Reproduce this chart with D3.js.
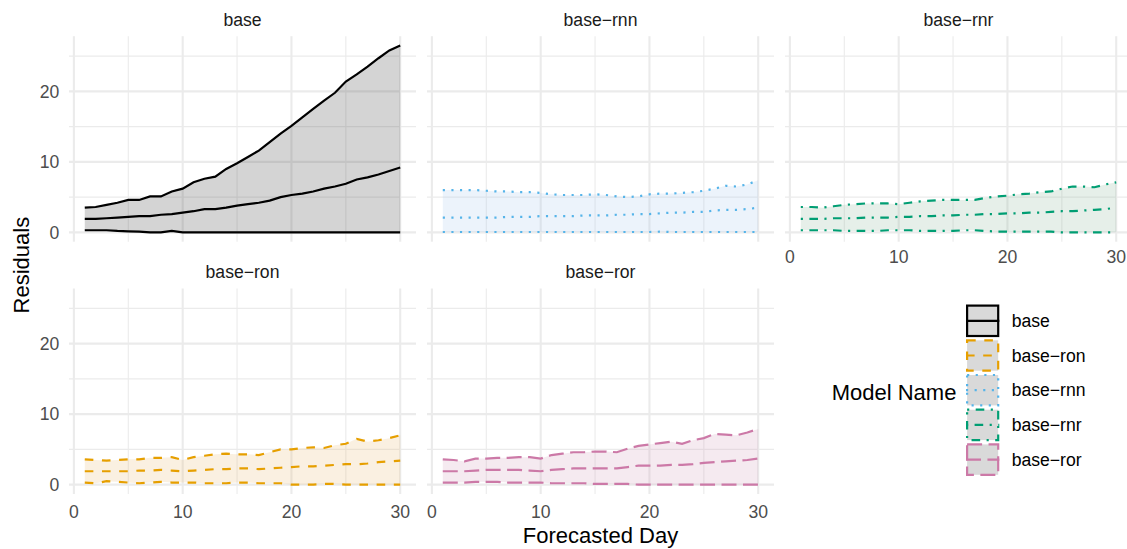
<!DOCTYPE html>
<html>
<head>
<meta charset="utf-8">
<script src="https://cdn.jsdelivr.net/npm/d3@7"></script>
<style>
body { margin: 0; background: #fff; }
text { font-family: "Liberation Sans", Arial, Helvetica, sans-serif; }
</style>
</head>
<body>
<svg width="1127" height="549"></svg>
<script>
// forecast days
var days = [1,2,3,4,5,6,7,8,9,10,11,12,13,14,15,16,17,18,19,20,21,22,23,24,25,26,27,28,29,30];

// facet order (alphabetical) and legend order
var models = ["base", "base-rnn", "base-rnr", "base-ron", "base-ror"];
var legendOrder = ["base", "base-ron", "base-rnn", "base-rnr", "base-ror"];

var xTicks = [0, 10, 20, 30];
var yTicks = [0, 10, 20];

// residual bands: lower / middle / upper per model
var lowerBase = [0.3,0.3,0.3,0.2,0.15,0.1,0,0,0.2,0,0,0,0,0,0,0,0,0,0,0,0,0,0,0,0,0,0,0,0,0];
var midBase   = [1.9,1.9,2.0,2.1,2.2,2.3,2.3,2.5,2.6,2.8,3.0,3.3,3.3,3.5,3.8,4.0,4.2,4.5,5.0,5.3,5.5,5.8,6.2,6.5,6.9,7.5,7.8,8.2,8.7,9.2];
var upperBase = [3.5,3.6,3.9,4.2,4.6,4.6,5.1,5.1,5.8,6.2,7.1,7.6,7.9,9.0,9.8,10.7,11.6,12.8,14.0,15.1,16.3,17.5,18.7,19.8,21.4,22.4,23.5,24.7,25.8,26.5];

var lowerRnn = [0.05,0.05,0.05,0.05,0.05,0.05,0.05,0.05,0.05,0.05,0.05,0.05,0.05,0.05,0.05,0.05,0.05,0.05,0.05,0.05,0.1,0.05,0.05,0.05,0.05,0.05,0.05,0.05,0.05,0.05];
var midRnn   = [2.1,2.1,2.1,2.1,2.1,2.1,2.2,2.2,2.2,2.3,2.3,2.3,2.3,2.4,2.4,2.4,2.5,2.5,2.6,2.6,2.7,2.8,2.8,2.9,2.9,3.1,3.2,3.2,3.3,3.5];
var upperRnn = [6.0,6.0,6.0,6.0,5.9,5.8,5.8,5.7,5.7,5.6,5.4,5.3,5.3,5.3,5.4,5.3,5.1,5.0,5.1,5.4,5.5,5.5,5.6,5.7,5.9,6.2,6.6,6.5,6.8,7.4];

var lowerRnr = [0.3,0.3,0.3,0.3,0.2,0.2,0.2,0.2,0.3,0.3,0.3,0.2,0.2,0.2,0.2,0.3,0.3,0.2,0.1,0.1,0.1,0.1,0.1,0.1,0,0,0,0,0,0];
var midRnr   = [1.9,1.9,1.9,2.0,2.0,2.0,2.1,2.1,2.1,2.2,2.2,2.3,2.3,2.4,2.4,2.5,2.5,2.6,2.6,2.7,2.7,2.8,2.8,2.9,3.0,3.0,3.1,3.2,3.3,3.5];
var upperRnr = [3.6,3.6,3.5,3.7,3.9,4.0,4.1,4.1,4.1,4.0,4.2,4.4,4.5,4.6,4.6,4.6,4.6,4.9,5.1,5.2,5.4,5.5,5.7,5.8,6.2,6.5,6.5,6.4,6.8,7.1];

var lowerRon = [0.3,0.2,0.5,0.4,0.3,0.2,0.3,0.4,0.3,0.3,0.3,0.2,0.2,0.2,0.3,0.3,0.2,0.2,0.2,0,0,0,0.1,0.1,0,0,0,0,0,0];
var midRon   = [1.9,1.9,1.9,1.9,1.9,2.0,2.0,2.1,2.0,1.9,2.0,2.1,2.2,2.2,2.3,2.3,2.2,2.3,2.4,2.5,2.6,2.6,2.7,2.8,2.9,2.9,3.0,3.2,3.3,3.4];
var upperRon = [3.6,3.5,3.4,3.5,3.6,3.6,3.8,3.8,3.9,3.5,3.9,4.1,4.3,4.4,4.3,4.3,4.2,4.6,5.0,5.0,5.2,5.3,5.2,5.6,5.8,6.5,6.1,6.3,6.6,7.0];

var lowerRor = [0.3,0.3,0.3,0.4,0.4,0.4,0.3,0.3,0.3,0.3,0.2,0.2,0.2,0.2,0.1,0.1,0.1,0.1,0,0,0,0,0,0,0,0,0,0,0,0];
var midRor   = [1.9,1.9,1.9,2.0,2.1,2.1,2.1,2.1,2.0,1.9,2.1,2.2,2.3,2.3,2.3,2.3,2.3,2.5,2.7,2.7,2.7,2.8,2.8,2.9,3.1,3.2,3.3,3.4,3.5,3.7];
var upperRor = [3.6,3.5,3.3,3.7,3.7,3.8,3.8,3.9,3.9,3.7,4.2,4.4,4.6,4.6,4.7,4.7,4.6,5.1,5.5,5.7,5.9,6.1,5.8,6.3,6.6,7.2,7.1,7.0,7.4,7.9];

var bands = {
  "base":     [lowerBase, midBase, upperBase],
  "base-rnn": [lowerRnn, midRnn, upperRnn],
  "base-rnr": [lowerRnr, midRnr, upperRnr],
  "base-ron": [lowerRon, midRon, upperRon],
  "base-ror": [lowerRor, midRor, upperRor]
};

// styles
var lineColor = { "base": "#000000", "base-ron": "#E69F00", "base-rnn": "#56B4E9", "base-rnr": "#009E73", "base-ror": "#CC79A7" };
var ribbonFill = { "base": "#282828", "base-ron": "#e6b469", "base-rnn": "#a0c3eb", "base-rnr": "#82af91", "base-ror": "#cd96b4" };
var dash = { "base": null, "base-ron": "8.6,8.6", "base-rnn": "2.15,6.45", "base-rnr": "2.15,6.45,8.6,6.45", "base-ror": "15,6.45" };
var lw = 2.2;

var svg = d3.select("svg");
var W = 347, H = 205.5;
var colX = [69, 427, 785], rowY = [36.2, 288.5];

function expand(ext) {
  var pad = (ext[1] - ext[0]) * 0.05;
  return [ext[0] - pad, ext[1] + pad];
}

var allVals = [];
models.forEach(function(m) { bands[m].forEach(function(a) { allVals = allVals.concat(a); }); });

var x = d3.scaleLinear().domain(expand(d3.extent(days))).range([0, W]);
var y = d3.scaleLinear().domain(expand(d3.extent(allVals))).range([H, 0]);

var area = d3.area()
    .x(function(d) { return x(d.day); })
    .y0(function(d) { return y(d.lo); })
    .y1(function(d) { return y(d.hi); });

var line = d3.line()
    .x(function(d) { return x(d.day); })
    .y(function(d) { return y(d.v); });

function label(s) { return s.replace(/-/g, "\u2212"); }

models.forEach(function(m, i) {
  var col = i % 3, row = Math.floor(i / 3);
  var g = svg.append("g").attr("transform", "translate(" + colX[col] + "," + rowY[row] + ")");
  var b = bands[m];

  // grid
  var yMinor = [5, 15, 25], xMinor = [5, 15, 25];
  g.selectAll(".ymin").data(yMinor).enter().append("line")
      .attr("x1", 0).attr("x2", W).attr("y1", y).attr("y2", y)
      .attr("stroke", "#ebebeb").attr("stroke-width", 1.1);
  g.selectAll(".xmin").data(xMinor).enter().append("line")
      .attr("y1", 0).attr("y2", H).attr("x1", x).attr("x2", x)
      .attr("stroke", "#ebebeb").attr("stroke-width", 1.1);
  g.selectAll(".ymaj").data(yTicks).enter().append("line")
      .attr("x1", 0).attr("x2", W).attr("y1", y).attr("y2", y)
      .attr("stroke", "#ebebeb").attr("stroke-width", 2.1);
  g.selectAll(".xmaj").data(xTicks).enter().append("line")
      .attr("y1", 0).attr("y2", H).attr("x1", x).attr("x2", x)
      .attr("stroke", "#ebebeb").attr("stroke-width", 2.1);

  var rib = days.map(function(d, k) { return { day: d, lo: b[0][k], hi: b[2][k] }; });
  g.append("path").attr("d", area(rib))
      .attr("fill", ribbonFill[m]).attr("fill-opacity", 0.2);

  b.forEach(function(series) {
    g.append("path")
        .attr("d", line(days.map(function(d, k) { return { day: d, v: series[k] }; })))
        .attr("fill", "none")
        .attr("stroke", lineColor[m])
        .attr("stroke-width", lw)
        .attr("stroke-dasharray", dash[m]);
  });

  // strip
  g.append("text").attr("x", W / 2).attr("y", -16.5).attr("dy", "0.35em")
      .attr("text-anchor", "middle").attr("font-size", 17.6).attr("fill", "#1a1a1a")
      .text(label(m));

  // y tick labels on left column
  if (col === 0) {
    g.selectAll(".yl").data(yTicks).enter().append("text")
        .attr("x", -9.8).attr("y", y).attr("dy", "0.35em")
        .attr("text-anchor", "end").attr("font-size", 17.6).attr("fill", "#4d4d4d")
        .text(function(d) { return d; });
  }
  // x tick labels on bottom-most panel in each column
  if (row === 1 || col === 2) {
    g.selectAll(".xl").data(xTicks).enter().append("text")
        .attr("x", x).attr("y", H + (row === 1 ? 18 : 15.5)).attr("dy", "0.35em")
        .attr("text-anchor", "middle").attr("font-size", 17.6).attr("fill", "#4d4d4d")
        .text(function(d) { return d; });
  }
});

// axis titles
svg.append("text").attr("x", (colX[0] + colX[2] + W) / 2).attr("y", 542.7)
    .attr("text-anchor", "middle").attr("font-size", 22).text("Forecasted Day");
svg.append("text").attr("transform", "translate(28.5," + (rowY[0] + (rowY[1] + H)) / 2 + ") rotate(-90)")
    .attr("text-anchor", "middle").attr("font-size", 22).text("Residuals");

// legend
var leg = svg.append("g");
leg.append("text").attr("x", 831.7).attr("y", 399.6).attr("font-size", 22).text("Model Name");
var keyTop = 304.5, keyStep = 34.7;
legendOrder.forEach(function(m, i) {
  var top = keyTop + i * keyStep;
  leg.append("rect").attr("x", 967.1).attr("y", top + 1.1).attr("width", 31.1).attr("height", 30.4)
      .attr("fill", "#d9d9d9").attr("stroke", lineColor[m]).attr("stroke-width", lw)
      .attr("stroke-dasharray", dash[m]);
  leg.append("line").attr("x1", 966).attr("x2", 999.3).attr("y1", top + 16.3).attr("y2", top + 16.3)
      .attr("stroke", lineColor[m]).attr("stroke-width", lw).attr("stroke-dasharray", dash[m]);
  leg.append("text").attr("x", 1011.7).attr("y", top + 16.3).attr("dy", "0.35em")
      .attr("font-size", 17.6).attr("fill", "#000").text(label(m));
});
</script>
</body>
</html>
